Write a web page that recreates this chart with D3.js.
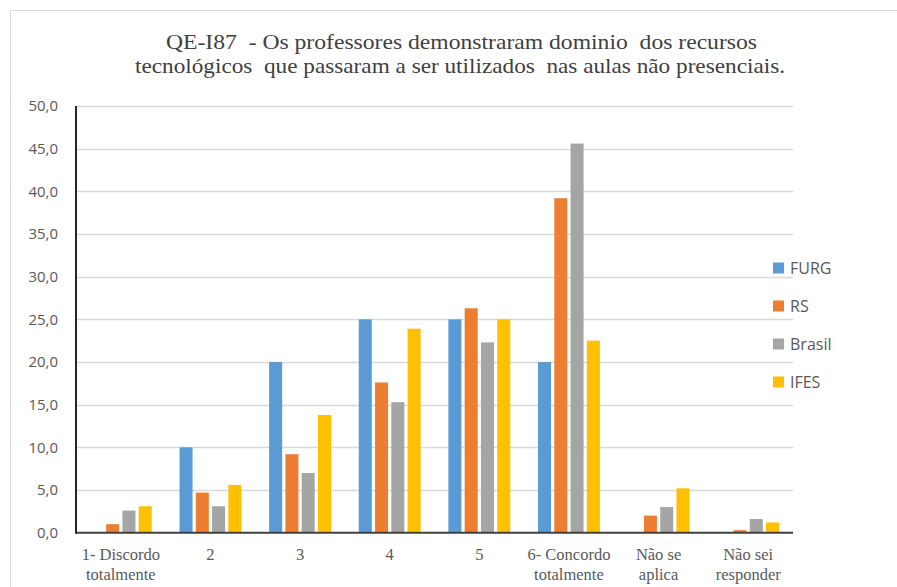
<!DOCTYPE html>
<html>
<head>
<meta charset="utf-8">
<script src="https://cdn.jsdelivr.net/npm/d3@7"></script>
<style>
  html, body { margin: 0; padding: 0; background: #fff; }
  svg { display: block; }
</style>
</head>
<body>
<svg id="chart" width="897" height="587"></svg>
<script>
// Survey categories (two-line labels on the x axis)
const categories = [
  ["1- Discordo", "totalmente"],
  ["2"],
  ["3"],
  ["4"],
  ["5"],
  ["6- Concordo", "totalmente"],
  ["Não se", "aplica"],
  ["Não sei", "responder"]
];
const seriesNames = ["FURG", "RS", "Brasil", "IFES"];
const seriesColors = ["#5B9BD5", "#ED7D31", "#A5A5A5", "#FFC000"];

// Percentages per category for each series
const furg   = [0.0, 10.0, 20.0, 25.0, 25.0, 20.0, 0.0, 0.0];
const rs     = [1.0, 4.7, 9.2, 17.6, 26.3, 39.2, 2.0, 0.3];
const brasil = [2.6, 3.1, 7.0, 15.3, 22.3, 45.6, 3.0, 1.6];
const ifes   = [3.1, 5.6, 13.8, 23.9, 25.0, 22.5, 5.2, 1.2];

const yTicks = [0, 5, 10, 15, 20, 25, 30, 35, 40, 45, 50];
const titleLines = [
  "QE-I87  - Os professores demonstraram dominio  dos recursos",
  "tecnológicos  que passaram a ser utilizados  nas aulas não presenciais."
];

const series = [furg, rs, brasil, ifes];

const svg = d3.select("#chart");
const margin = { left: 76, right: 897 - 793, top: 106, bottom: 587 - 532.7 };
const W = 897, H = 587;

// chart frame (runs past the right and bottom edges)
svg.append("rect")
  .attr("x", 10.5).attr("y", 10.5)
  .attr("width", 900).attr("height", 600)
  .attr("fill", "#fff").attr("stroke", "#d9d9d9").attr("stroke-width", 1);

const x0 = d3.scaleBand()
  .domain(d3.range(categories.length))
  .range([margin.left, W - margin.right])
  .paddingInner(0.31).paddingOuter(0.155);

const x1 = d3.scaleBand()
  .domain(d3.range(seriesNames.length))
  .range([0, x0.bandwidth()])
  .paddingInner(0.2);

const y = d3.scaleLinear()
  .domain([0, 50])
  .range([H - margin.bottom, margin.top]);

const fmt = v => v.toFixed(1).replace(".", ",");

// gridlines
svg.append("g")
  .selectAll("line")
  .data(yTicks.filter(t => t > 0))
  .join("line")
  .attr("x1", margin.left).attr("x2", W - margin.right)
  .attr("y1", d => Math.round(y(d)) + 0.5).attr("y2", d => Math.round(y(d)) + 0.5)
  .attr("stroke", "#d9d9d9").attr("stroke-width", 1.3);

// y axis labels
const yAxis = d3.axisLeft(y).tickValues(yTicks).tickFormat(fmt).tickSize(0).tickPadding(18);
const yg = svg.append("g")
  .attr("transform", `translate(${margin.left},0)`)
  .call(yAxis);
yg.select(".domain").remove();
yg.selectAll("text")
  .attr("font-family", "'Open Sans', 'Liberation Sans', sans-serif")
  .attr("font-size", 15)
  .attr("fill", "#595959");

// bars
const groups = svg.append("g")
  .selectAll("g")
  .data(categories.map((c, i) => i))
  .join("g")
  .attr("transform", i => `translate(${x0(i)},0)`);

groups.selectAll("rect")
  .data(i => series.map((s, k) => ({ k, v: s[i] })).filter(d => d.v > 0))
  .join("rect")
  .attr("x", d => x1(d.k))
  .attr("width", x1.bandwidth())
  .attr("y", d => y(d.v))
  .attr("height", d => y(0) - y(d.v))
  .attr("fill", d => seriesColors[d.k]);

// axis lines
svg.append("line")
  .attr("x1", margin.left).attr("x2", W - margin.right)
  .attr("y1", y(0)).attr("y2", y(0))
  .attr("stroke", "#404040").attr("stroke-width", 2);
svg.append("line")
  .attr("x1", margin.left).attr("x2", margin.left)
  .attr("y1", y(50)).attr("y2", y(0) + 1)
  .attr("stroke", "#262626").attr("stroke-width", 2);

// category labels
const xl = svg.append("g")
  .selectAll("text")
  .data(categories)
  .join("text")
  .attr("x", (d, i) => x0(i) + x0.bandwidth() / 2)
  .attr("y", 560)
  .attr("text-anchor", "middle")
  .attr("font-family", "'Liberation Serif', 'Times New Roman', serif")
  .attr("font-size", 16.5)
  .attr("fill", "#595959");
xl.selectAll("tspan")
  .data(d => d)
  .join("tspan")
  .attr("x", function () { return d3.select(this.parentNode).attr("x"); })
  .attr("dy", (d, j) => j === 0 ? 0 : 20)
  .text(d => d);

// legend
const lg = svg.append("g")
  .selectAll("g")
  .data(seriesNames)
  .join("g")
  .attr("transform", (d, i) => `translate(773,${268 + i * 38})`);
lg.append("rect")
  .attr("x", 0).attr("y", -5.5).attr("width", 11).attr("height", 11)
  .attr("fill", (d, i) => seriesColors[i]);
lg.append("text")
  .attr("x", 17).attr("y", 5.5)
  .attr("font-family", "'Open Sans', 'Liberation Sans', sans-serif")
  .attr("font-size", 16)
  .attr("fill", "#595959")
  .text(d => d);

// title
const titleSpans = [[166, 591], [135, 650]];
svg.append("g")
  .selectAll("text")
  .data(titleLines)
  .join("text")
  .attr("x", (d, i) => titleSpans[i][0])
  .attr("y", (d, i) => 49 + i * 24)
  .attr("textLength", (d, i) => titleSpans[i][1])
  .attr("lengthAdjust", "spacingAndGlyphs")
  .attr("font-family", "'Liberation Serif', 'Times New Roman', serif")
  .attr("font-size", 21)
  .attr("fill", "#404040")
  .style("white-space", "pre")
  .text(d => d);
</script>
</body>
</html>
